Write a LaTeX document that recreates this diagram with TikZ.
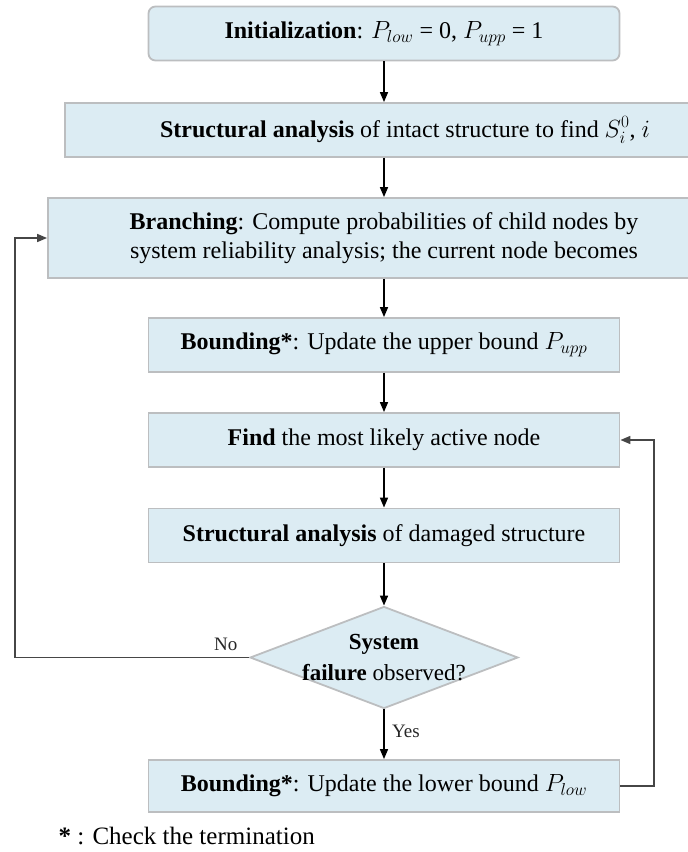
\documentclass[tikz,border=0pt]{standalone}
\usepackage{fontspec}
\setmainfont{Liberation Serif}
\usetikzlibrary{shapes.geometric,arrows.meta,positioning}
\definecolor{boxfill}{RGB}{220,236,243}
\definecolor{boxline}{RGB}{188,190,192}
\definecolor{loopgray}{RGB}{70,70,70}

\begin{document}
\begin{tikzpicture}[
x=1pt,y=-1pt,
box/.style={
draw=boxline,
fill=boxfill,
line width=1.8pt,
minimum width=471pt,
minimum height=54pt,
inner sep=0pt,
align=center,
font=\fontsize{24}{29}\selectfont
},
dia/.style={
diamond,
draw=boxline,
fill=boxfill,
line width=1.8pt,
minimum width=268pt,
minimum height=102pt,
inner sep=0pt
},
lab/.style={
font=\fontsize{19}{22}\selectfont,
text=black!85
},
flow/.style={
-{Triangle[length=10pt,width=8pt]},
line width=1.6pt,
color=black
},
back/.style={
-{Triangle[length=10pt,width=8pt]},
line width=1.6pt,
color=loopgray
}
]

\clip (0,0) rectangle (688,852);

\node[box,rounded corners=7pt] (init) at (384,33.5)
{\textbf{Initialization}: $P_{low}$ = 0, $P_{upp}$ = 1};

\node[box,minimum width=680pt] (intact) at (405,130)
{\textbf{Structural analysis} of intact structure to find $S_i^0$, $i$};

\node[box,minimum width=672pt,minimum height=80pt] (branch) at (384,238)
{\textbf{Branching}: Compute probabilities of child nodes by\\
system reliability analysis; the current node becomes};

\node[box] (upper) at (384,345)
{\textbf{Bounding*}: Update the upper bound $P_{upp}$};

\node[box] (find) at (384,440)
{\textbf{Find} the most likely active node};

\node[box] (damaged) at (384,535.5)
{\textbf{Structural analysis} of damaged structure};

\node[dia] (fail) at (384,657.5) {};
\node[align=center,font=\fontsize{23}{31}\selectfont] (failtxt) at (fail.center)
{\textbf{System}\\ \textbf{failure} observed?};

\node[box,minimum height=52pt] (lower) at (384,786)
{\textbf{Bounding*}: Update the lower bound $P_{low}$};

\draw[flow] (init) -- (init |- intact.north);
\draw[flow] (intact.south -| branch) -- (branch);
\draw[flow] (branch) -- (upper);
\draw[flow] (upper) -- (find);
\draw[flow] (find) -- (damaged);
\draw[flow] (damaged) -- (fail);
\draw[flow] (fail) -- node[lab,right=4pt,pos=0.45]{Yes} (lower);

% feedback loops
\coordinate (lft) at (15,657.5);
\coordinate (rgt) at (654,786);
\draw[back] (fail.west) -- node[lab,above=3pt,pos=0.1]{No} (lft) |- (branch.west);
\draw[back] (lower.east) -- (rgt) |- (find.east);

\node[anchor=west,font=\fontsize{25}{28}\selectfont] (note) at (55,836)
{\textbf{*} : Check the termination};

\end{tikzpicture}
\end{document}
